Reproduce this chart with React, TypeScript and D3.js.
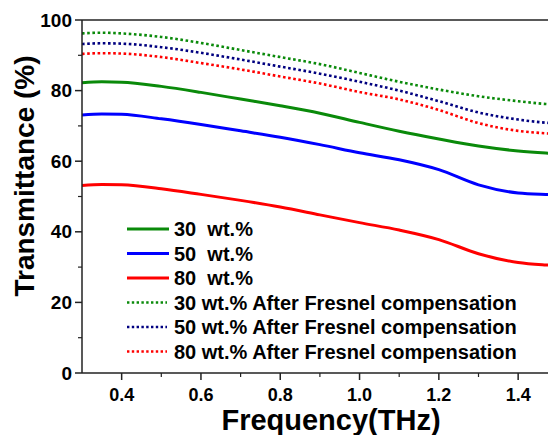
import React from "react";
import * as d3 from "d3";

// frequency (THz) sample points
const freq = [0.3, 0.35, 0.4, 0.5, 0.6, 0.7, 0.8, 0.9, 1.0, 1.1, 1.2, 1.3, 1.4, 1.47, 1.5];

const wt30 = [82.2, 82.5, 82.4, 81.2, 79.5, 77.6, 75.7, 73.6, 71.0, 68.5, 66.3, 64.3, 62.9, 62.3, 62.1];
const wt50 = [73.1, 73.4, 73.3, 72.0, 70.4, 68.6, 66.8, 64.7, 62.4, 60.4, 57.6, 53.3, 51.0, 50.6, 50.5];
const wt80 = [53.1, 53.4, 53.3, 52.2, 50.6, 48.9, 47.0, 44.8, 42.6, 40.5, 37.8, 33.8, 31.3, 30.6, 30.4];
const wt30F = [96.2, 96.4, 96.2, 95.2, 93.5, 91.5, 89.5, 87.5, 85.0, 82.5, 80.3, 78.4, 77.0, 76.2, 76.0];
const wt50F = [93.2, 93.4, 93.3, 92.3, 90.7, 88.8, 86.8, 84.8, 82.5, 80.0, 77.0, 73.8, 71.8, 70.9, 70.7];
const wt80F = [90.4, 90.6, 90.5, 89.5, 87.8, 86.0, 84.0, 82.0, 79.6, 77.5, 74.5, 70.8, 68.6, 67.9, 67.7];

const labels = [
  "30  wt.%",
  "50  wt.%",
  "80  wt.%",
  "30 wt.% After Fresnel compensation",
  "50 wt.% After Fresnel compensation",
  "80 wt.% After Fresnel compensation",
];
const colors = ["#0a8a0a", "#0000ff", "#ff0000", "#0a8a0a", "#000080", "#ff0000"];
const dotted = [false, false, false, true, true, true];
const series = [wt30, wt50, wt80, wt30F, wt50F, wt80F];

const xTicks = [0.4, 0.6, 0.8, 1.0, 1.2, 1.4];
const xMinor = [0.5, 0.7, 0.9, 1.1, 1.3];
const yTicks = [0, 20, 40, 60, 80, 100];
const yMinor = [10, 30, 50, 70, 90];

const W = 548;
const H = 435;
const left = 82;
const top = 20;
const bottom = 373;

export default function App() {
  const x = d3.scaleLinear().domain([0.3, 1.5]).range([left, left + 1.2 * 396.5]);
  const y = d3.scaleLinear().domain([0, 100]).range([bottom, top]);
  const font = "'Liberation Sans', Arial, sans-serif";

  const line = (vals: number[]) =>
    d3
      .line<number>()
      .x((_, i) => x(freq[i]))
      .y((d) => y(d))
      .curve(d3.curveMonotoneX)(vals) as string;

  const legX = 127;
  const legY0 = 229;
  const legStep = 24.5;

  return (
    <svg
      width={W}
      height={H}
      style={{ position: "absolute", left: 0, top: 0, background: "#fff" }}
      fontFamily={font}
      fontWeight="bold"
    >
      <defs>
        <clipPath id="plot">
          <rect x={left} y={top} width={W - left} height={bottom - top} />
        </clipPath>
      </defs>

      {/* curves */}
      <g clipPath="url(#plot)">
        {series.map((s, i) => (
          <path
            key={i}
            d={line(s)}
            fill="none"
            stroke={colors[i]}
            strokeWidth={dotted[i] ? 2.6 : 3}
            strokeDasharray={dotted[i] ? "2.6 2.6" : undefined}
          />
        ))}
      </g>

      {/* frame */}
      <line x1={left} x2={W} y1={top} y2={top} stroke="#222" strokeWidth={1.5} />
      <line x1={left} x2={W} y1={bottom} y2={bottom} stroke="#222" strokeWidth={1.5} />
      <line x1={left} x2={left} y1={top} y2={bottom} stroke="#222" strokeWidth={1.5} />

      {/* y axis */}
      {yTicks.map((t) => (
        <g key={t}>
          <line x1={left - 7} x2={left} y1={y(t)} y2={y(t)} stroke="#222" strokeWidth={1.5} />
          <text x={left - 10} y={y(t)} dy="0.35em" textAnchor="end" fontSize={19}>
            {t}
          </text>
        </g>
      ))}
      {yMinor.map((t) => (
        <line key={t} x1={left - 4} x2={left} y1={y(t)} y2={y(t)} stroke="#222" strokeWidth={1.2} />
      ))}

      {/* x axis */}
      {xTicks.map((t) => (
        <g key={t}>
          <line x1={x(t)} x2={x(t)} y1={bottom} y2={bottom + 7} stroke="#222" strokeWidth={1.5} />
          <text x={x(t)} y={bottom + 22} dy="0.35em" textAnchor="middle" fontSize={18}>
            {t.toFixed(1)}
          </text>
        </g>
      ))}
      {xMinor.map((t) => (
        <line key={t} x1={x(t)} x2={x(t)} y1={bottom} y2={bottom + 4} stroke="#222" strokeWidth={1.2} />
      ))}

      {/* titles */}
      <text x={331} y={430} textAnchor="middle" fontSize={29}>
        Frequency(THz)
      </text>
      <text transform="translate(34, 176) rotate(-90)" textAnchor="middle" fontSize={28}>
        Transmittance (%)
      </text>

      {/* legend */}
      {labels.map((lab, i) => {
        const yy = legY0 + i * legStep;
        return (
          <g key={lab}>
            <line
              x1={legX}
              x2={dotted[i] ? 167 : 169}
              y1={yy}
              y2={yy}
              stroke={colors[i]}
              strokeWidth={dotted[i] ? 2.4 : 3}
              strokeDasharray={dotted[i] ? "2.4 2.4" : undefined}
            />
            <text x={174} y={yy} dy="0.36em" fontSize={20} style={{ whiteSpace: "pre" }}>
              {lab}
            </text>
          </g>
        );
      })}
    </svg>
  );
}
